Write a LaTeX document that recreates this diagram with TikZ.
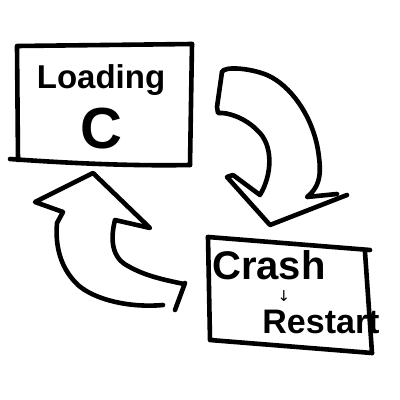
\documentclass[tikz,border=0pt]{standalone}
\usepackage{fontspec}
\setmainfont{Liberation Sans}
\newfontfamily\symfont{DejaVu Sans}
\begin{document}
\begin{tikzpicture}[x=1pt,y=-1pt,
  ink/.style={line width=4.6pt,line cap=round,line join=round,draw=black},
  txt/.style={inner sep=0pt,font=\bfseries}]
\useasboundingbox[fill=white] (0,0) rectangle (400,400);
% box 1
\coordinate (b1a) at (17,46);
\coordinate (b1b) at (192,44);
\coordinate (b1c) at (190,165);
\coordinate (b1d) at (18,160);
\draw[ink] (b1d) -- (b1a) -- (b1b);
\draw[ink] (b1b) -- (b1c);
\draw[ink] (10,159) .. controls (80,164) and (140,166) .. (b1c);
\node[txt,font=\bfseries\fontsize{33}{33}\selectfont] (load) at (101,80) {Loading};
\node[txt,font=\bfseries\fontsize{58}{58}\selectfont] (spin) at (101,129) {C};
% box 2
\coordinate (b2a) at (208,237);
\coordinate (b2b) at (370,250);
\coordinate (b2c) at (372,353);
\coordinate (b2d) at (210,340);
\draw[ink] (b2a) -- (b2d) -- (b2c);
\draw[ink] (b2a) -- (b2b);
\draw[ink] (365,252) -- (b2c);
\node[txt,font=\bfseries\fontsize{40}{40}\selectfont] (crash) at (269,265) {Crash};
\node[txt,font=\symfont\fontsize{15}{15}\selectfont] (darr) at (284,296) {↓};
\node[txt,font=\bfseries\fontsize{34}{34}\selectfont] (restart) at (321,322) {Restart};
% arrow 1 (down right)
\draw[ink] (222,72) .. controls (224,66) and (250,68) .. (267,75)
  .. controls (290,85) and (312,115) .. (318,150)
  .. controls (321,170) and (322,185) .. (307,197)
  -- (337,194);
\draw[ink] (347,195) -- (270,225) -- (227,177) -- (233,175) -- (260,195)
  .. controls (272,175) and (274,145) .. (257,130)
  .. controls (245,118) and (228,112) .. (218,113)
  -- (217,107) -- (222,72);
% arrow 2 (up left)
\draw[ink] (163,305) .. controls (130,308) and (95,300) .. (78,285)
  .. controls (60,268) and (55,245) .. (57,223)
  -- (63,212) -- (35,202) -- (93,173) -- (150,228) -- (115,220)
  .. controls (110,240) and (112,258) .. (128,266)
  .. controls (145,276) and (165,280) .. (184,284);
\draw[ink] (185,283) -- (175,310);
\end{tikzpicture}
\end{document}
